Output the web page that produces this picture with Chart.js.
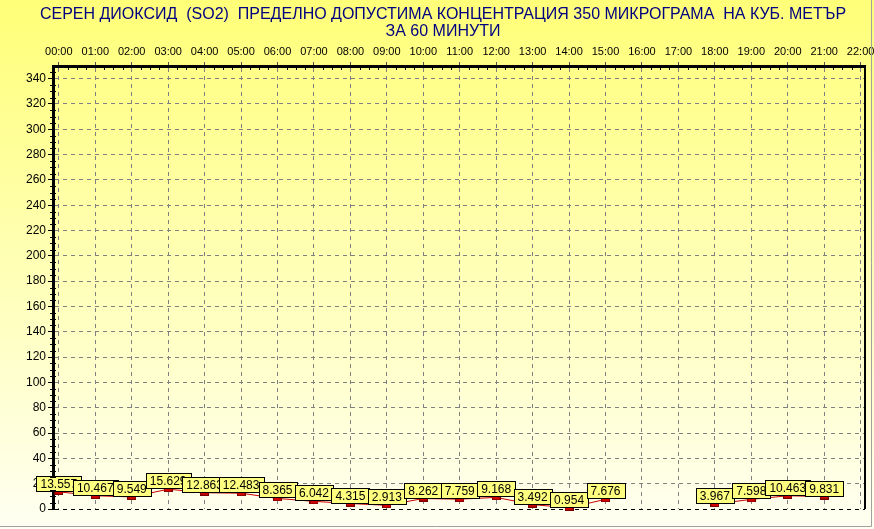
<!DOCTYPE html>
<html>
<head>
<meta charset="utf-8">
<script src="https://cdn.jsdelivr.net/npm/chart.js@4.4.1/dist/chart.umd.min.js"></script>
<style>
  html, body { margin: 0; padding: 0; background: #fff; }
  #wrap { width: 874px; height: 529px; }
  canvas { display: block; }
</style>
</head>
<body>
<div id="wrap"><canvas id="so2Chart" width="874" height="529"></canvas></div>
<script>
// Chart data
const titleLines = [
  'СЕРЕН ДИОКСИД  (SO2)  ПРЕДЕЛНО ДОПУСТИМА КОНЦЕНТРАЦИЯ 350 МИКРОГРАМА  НА КУБ. МЕТЪР',
  'ЗА 60 МИНУТИ'
];
const hourLabels = ['00:00', '01:00', '02:00', '03:00', '04:00', '05:00', '06:00', '07:00',
  '08:00', '09:00', '10:00', '11:00', '12:00', '13:00', '14:00', '15:00', '16:00', '17:00',
  '18:00', '19:00', '20:00', '21:00', '22:00'];
const hours = [0, 1, 2, 3, 4, 5, 6, 7, 8, 9, 10, 11, 12, 13, 14, 15, 16, 17, 18, 19, 20, 21];
const so2Values = [13.557, 10.467, 9.549, 15.629, 12.863, 12.483, 8.365, 6.042, 4.315, 2.913,
  8.262, 7.759, 9.168, 3.492, 0.954, 7.676, null, null, 3.967, 7.598, 10.463, 9.831];
const yTicks = [0, 20, 40, 60, 80, 100, 120, 140, 160, 180, 200, 220, 240, 260, 280, 300, 320, 340];
const yMax = 350;

const FONT = "'Liberation Sans', Arial, sans-serif";

// Small red rectangle used as point marker
function makeMarker() {
  const c = document.createElement('canvas');
  c.width = 9;
  c.height = 6;
  const g = c.getContext('2d');
  g.fillStyle = '#d40000';
  g.fillRect(0, 0, 9, 6);
  g.strokeStyle = '#7a0000';
  g.lineWidth = 1;
  g.strokeRect(0.5, 0.5, 8, 5);
  return c;
}

// Yellow gradient background + outer frame
const backgroundPlugin = {
  id: 'background',
  beforeDraw(chart) {
    const { ctx, width, height } = chart;
    const grad = ctx.createLinearGradient(0, 0, 0, height);
    grad.addColorStop(0, '#ffff78');
    grad.addColorStop(1, '#fffff2');
    ctx.save();
    ctx.fillStyle = grad;
    ctx.fillRect(0, 0, width, height);
    ctx.restore();
  },
  afterDraw(chart) {
    const { ctx, width, height } = chart;
    ctx.save();
    ctx.strokeStyle = '#a0a0a0';
    ctx.lineWidth = 1;
    ctx.beginPath();
    ctx.moveTo(0, height - 2.5);
    ctx.lineTo(width - 2.5, height - 2.5);
    ctx.lineTo(width - 2.5, 0);
    ctx.stroke();
    ctx.restore();
  }
};

// Two line title
const titlePlugin = {
  id: 'twoLineTitle',
  afterDraw(chart) {
    const { ctx, width } = chart;
    ctx.save();
    ctx.fillStyle = '#000080';
    ctx.font = '16px ' + FONT;
    ctx.textAlign = 'center';
    ctx.textBaseline = 'middle';
    titleLines.forEach((line, i) => {
      ctx.fillText(line, width / 2 + 6, 14.5 + i * 17);
    });
    ctx.restore();
  }
};

// Right border and minor ticks on the axes
const framePlugin = {
  id: 'frame',
  afterDraw(chart) {
    const { ctx, chartArea } = chart;
    const xs = chart.scales.x;
    const ys = chart.scales.y;
    ctx.save();
    ctx.strokeStyle = '#000';
    ctx.lineWidth = 2;
    ctx.beginPath();
    ctx.moveTo(chartArea.right, chartArea.top);
    ctx.lineTo(chartArea.right, chartArea.bottom);
    ctx.stroke();

    ctx.lineWidth = 1;
    ctx.beginPath();
    for (let v = 5; v < yMax; v += 5) {
      if (v % 20 === 0) continue;
      const y = Math.round(ys.getPixelForValue(v)) + 0.5;
      ctx.moveTo(chartArea.left - 3, y);
      ctx.lineTo(chartArea.left + 3, y);
    }
    for (let h = 0; h < hourLabels.length - 1; h += 0.25) {
      if (Number.isInteger(h)) continue;
      const x = Math.round(xs.getPixelForValue(h)) + 0.5;
      ctx.moveTo(x, chartArea.top);
      ctx.lineTo(x, chartArea.top + 4);
    }
    ctx.stroke();
    ctx.restore();
  }
};

// Value labels in yellow boxes above each point
const valueLabelPlugin = {
  id: 'valueLabels',
  afterDatasetsDraw(chart) {
    const { ctx } = chart;
    const meta = chart.getDatasetMeta(0);
    ctx.save();
    ctx.font = '12px ' + FONT;
    ctx.textAlign = 'center';
    ctx.textBaseline = 'middle';
    meta.data.forEach((pt, i) => {
      const v = so2Values[i];
      if (v === null || v === undefined) return;
      const text = v.toFixed(3);
      const w = Math.round(ctx.measureText(text).width) + 8;
      const h = 15;
      const x = Math.round(pt.x - w / 2) + 0.5;
      const y = Math.round(pt.y - 1 - h) + 0.5;
      ctx.fillStyle = '#ffff80';
      ctx.fillRect(x, y, w, h);
      ctx.strokeStyle = '#000';
      ctx.lineWidth = 1;
      ctx.strokeRect(x, y, w, h);
      ctx.fillStyle = '#000';
      ctx.fillText(text, pt.x, y + h / 2 + 0.5);
    });
    ctx.restore();
  }
};

const ctx = document.getElementById('so2Chart').getContext('2d');
new Chart(ctx, {
  type: 'line',
  data: {
    datasets: [{
      label: 'SO2',
      data: hours.map((h, i) => ({ x: h, y: so2Values[i] })),
      borderColor: '#cc0000',
      borderWidth: 1,
      tension: 0,
      spanGaps: false,
      pointStyle: makeMarker(),
      pointRadius: 4,
      pointHoverRadius: 4,
      clip: false
    }]
  },
  options: {
    responsive: false,
    animation: false,
    events: [],
    layout: {
      padding: { left: 0, top: 0, right: 9, bottom: 20 }
    },
    plugins: {
      legend: { display: false },
      title: { display: false },
      tooltip: { enabled: false }
    },
    scales: {
      x: {
        type: 'linear',
        position: 'top',
        min: -0.16,
        max: 22.12,
        afterBuildTicks: scale => {
          scale.ticks = hourLabels.map((_, i) => ({ value: i }));
        },
        afterFit: scale => {
          scale.height = 66;
          scale.paddingLeft = 0;
          scale.paddingRight = 0;
        },
        ticks: {
          autoSkip: false,
          maxRotation: 0,
          padding: 3,
          color: '#000',
          font: { family: FONT, size: 11 },
          callback: v => hourLabels[v]
        },
        grid: {
          color: '#808080',
          lineWidth: 1,
          tickLength: 4,
          tickColor: '#505050'
        },
        border: { display: true, color: '#000', width: 3, dash: [4, 4] }
      },
      y: {
        type: 'linear',
        min: 0,
        max: yMax,
        afterBuildTicks: scale => {
          scale.ticks = yTicks.map(v => ({ value: v }));
        },
        afterFit: scale => { scale.width = 53; },
        ticks: {
          padding: 2,
          color: '#000',
          font: { family: FONT, size: 12 }
        },
        grid: {
          color: c => (c.tick && c.tick.value === 0 ? '#000' : '#808080'),
          lineWidth: 1,
          tickLength: 5,
          tickColor: '#000'
        },
        border: { display: true, color: '#000', width: 3, dash: [4, 4] }
      }
    }
  },
  plugins: [backgroundPlugin, framePlugin, valueLabelPlugin, titlePlugin]
});
</script>
</body>
</html>
